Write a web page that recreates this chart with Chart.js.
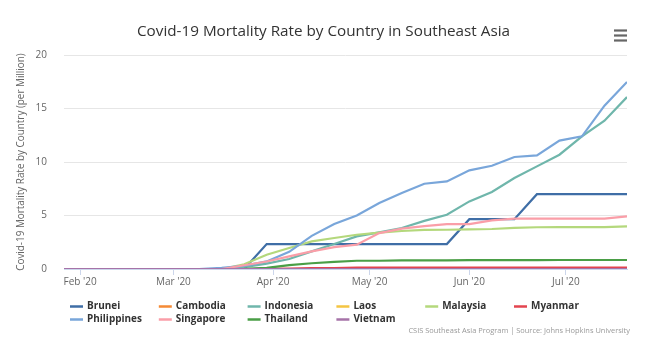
<!DOCTYPE html>
<html>
<head>
<meta charset="utf-8">
<script src="https://cdn.jsdelivr.net/npm/chart.js@4.4.1/dist/chart.umd.min.js"></script>
<style>
html,body{margin:0;padding:0;background:#fff;}
#wrap{position:relative;width:659px;height:346px;}
canvas{display:block;}
</style>
</head>
<body>
<div id="wrap"><canvas id="c" width="659" height="346"></canvas></div>
<script>
// ---------- DATA ----------
const chartTitle = 'Covid-19 Mortality Rate by Country in Southeast Asia';
const yAxisTitle = 'Covid-19 Mortality Rate by Country (per Million)';
const creditText = 'CSIS Southeast Asia Program | Source: Johns Hopkins University';

const weekDates = ['2020-01-27','2020-02-03','2020-02-10','2020-02-17','2020-02-24','2020-03-02','2020-03-09',
  '2020-03-16','2020-03-23','2020-03-30','2020-04-06','2020-04-13','2020-04-20','2020-04-27','2020-05-04',
  '2020-05-11','2020-05-18','2020-05-25','2020-06-01','2020-06-08','2020-06-15','2020-06-22','2020-06-29',
  '2020-07-06','2020-07-13','2020-07-20'];

const countries = ['Brunei','Cambodia','Indonesia','Laos','Malaysia','Myanmar','Philippines','Singapore','Thailand','Vietnam'];

const brunei      = [0,0,0,0,0,0,0,0,0,2.33,2.33,2.33,2.33,2.33,2.33,2.33,2.33,2.33,4.66,4.66,4.66,6.99,6.99,6.99,6.99,6.99];
const cambodia    = [0,0,0,0,0,0,0,0,0,0,0,0,0,0,0,0,0,0,0,0,0,0,0,0,0,0];
const indonesia   = [0,0,0,0,0,0,0,0.01,0.18,0.5,0.93,1.65,2.33,3.05,3.42,3.83,4.5,5.07,6.32,7.2,8.5,9.59,10.68,12.4,13.86,16.07];
const laos        = [0,0,0,0,0,0,0,0,0,0,0,0,0,0,0,0,0,0,0,0,0,0,0,0,0,0];
const malaysia    = [0,0,0,0,0,0,0,0,0.44,1.34,1.96,2.58,2.9,3.2,3.4,3.55,3.65,3.67,3.7,3.74,3.85,3.9,3.92,3.92,3.92,3.98];
const myanmar     = [0,0,0,0,0,0,0,0,0,0.02,0.04,0.09,0.09,0.12,0.12,0.12,0.12,0.13,0.13,0.13,0.13,0.13,0.13,0.13,0.13,0.13];
const philippines = [0,0,0,0,0,0,0,0.11,0.3,0.71,1.6,3.1,4.2,5.0,6.17,7.1,7.97,8.19,9.22,9.65,10.47,10.62,12.0,12.4,15.26,17.48];
const singapore   = [0,0,0,0,0,0,0,0,0.35,0.7,1.18,1.65,2.05,2.27,3.36,3.77,4.0,4.2,4.2,4.55,4.7,4.7,4.7,4.7,4.7,4.92];
const thailand    = [0,0,0,0,0,0,0,0,0.02,0.1,0.37,0.54,0.67,0.77,0.77,0.8,0.8,0.81,0.83,0.83,0.83,0.83,0.84,0.84,0.84,0.84];
const vietnam     = [0,0,0,0,0,0,0,0,0,0,0,0,0,0,0,0,0,0,0,0,0,0,0,0,0,0];

const monthTickDates  = ['2020-02-01','2020-03-01','2020-04-01','2020-05-01','2020-06-01','2020-07-01'];
const monthTickLabels = ["Feb '20","Mar '20","Apr '20","May '20","Jun '20","Jul '20"];
const yTickValues = [0,5,10,15,20];

// ---------- STYLE ----------
const seriesValues = [brunei,cambodia,indonesia,laos,malaysia,myanmar,philippines,singapore,thailand,vietnam];
const seriesColors = ['#3f6ea6','#f58a35','#6fb6ab','#f4c542','#b4d87c','#e3444f','#79a6da','#fa9ea8','#4a9e46','#a673a8'];
const FAMILY = '"Open Sans", "Liberation Sans", sans-serif';

function dayOf(s){
  const [y,m,d] = s.split('-').map(Number);
  return (Date.UTC(y,m-1,d) - Date.UTC(2020,1,1)) / 86400000;
}
const mctx = document.createElement('canvas').getContext('2d');
function fitSize(text, weight, target){
  mctx.font = weight + ' 100px ' + FAMILY;
  return 100 * target / mctx.measureText(text).width;
}
const titleSize  = fitSize(chartTitle, 'normal', 373);
const yTitleSize = fitSize(yAxisTitle, 'normal', 218);
const legendSize = fitSize('Philippines', 'bold', 55);
const creditSize = fitSize(creditText, 'normal', 222);

const xDays = weekDates.map(dayOf);
const monthDays = monthTickDates.map(dayOf);

const datasets = countries.map((name,i)=>({
  label: name,
  data: seriesValues[i].map((v,k)=>({x:xDays[k], y:v})),
  borderColor: seriesColors[i],
  backgroundColor: seriesColors[i],
  borderWidth: 2.2,
  pointRadius: 0,
  tension: 0,
  fill: false,
  order: -i
}));

const decorPlugin = {
  id: 'decor',
  afterDraw(chart){
    const ctx = chart.ctx;
    ctx.save();
    // title
    ctx.fillStyle = '#333333';
    ctx.font = 'normal ' + titleSize + 'px ' + FAMILY;
    ctx.textAlign = 'center';
    ctx.textBaseline = 'middle';
    ctx.fillText(chartTitle, 323.5, 32);
    // menu icon
    ctx.strokeStyle = '#666666';
    ctx.lineWidth = 2.2;
    [30.5, 35.5, 40.5].forEach(y=>{
      ctx.beginPath(); ctx.moveTo(614, y); ctx.lineTo(627, y); ctx.stroke();
    });
    // legend
    const colX = [70, 158.8, 247.6, 336.4, 425.2, 514];
    const rowY = [306.5, 319.5];
    ctx.font = 'bold ' + legendSize + 'px ' + FAMILY;
    ctx.textAlign = 'left';
    ctx.textBaseline = 'middle';
    countries.forEach((name,i)=>{
      const x = colX[i % 6], y = rowY[Math.floor(i / 6)];
      ctx.strokeStyle = seriesColors[i];
      ctx.lineWidth = 2.5;
      ctx.beginPath(); ctx.moveTo(x, y); ctx.lineTo(x + 13, y); ctx.stroke();
      ctx.fillStyle = '#333333';
      ctx.fillText(name, x + 17, y);
    });
    // credits
    ctx.font = 'normal ' + creditSize + 'px ' + FAMILY;
    ctx.fillStyle = '#999999';
    ctx.textAlign = 'right';
    ctx.fillText(creditText, 630, 331);
    ctx.restore();
  }
};

new Chart(document.getElementById('c'), {
  type: 'line',
  data: { datasets },
  options: {
    responsive: false,
    animation: false,
    devicePixelRatio: 1,
    layout: { padding: { top: 55, right: 32, bottom: 52, left: 0 } },
    plugins: { legend: { display: false }, title: { display: false }, tooltip: { enabled: false } },
    scales: {
      x: {
        type: 'linear',
        min: dayOf(weekDates[0]),
        max: dayOf(weekDates[weekDates.length-1]),
        afterBuildTicks(scale){ scale.ticks = monthDays.map(v=>({value:v})); },
        afterFit(scale){ scale.height = 25; },
        grid: { display: true, drawOnChartArea: false, drawTicks: true, tickLength: 6, color: '#ccd6eb', lineWidth: 1 },
        border: { display: true, color: '#ccd6eb', width: 1 },
        ticks: {
          autoSkip: false, maxRotation: 0, padding: 1,
          color: '#666666', font: { family: FAMILY, size: 10 },
          callback(value, index){ return monthTickLabels[index]; }
        }
      },
      y: {
        type: 'linear',
        min: 0, max: 20,
        afterBuildTicks(scale){ scale.ticks = yTickValues.map(v=>({value:v})); },
        afterFit(scale){ scale.width = 64; },
        grid: { color: '#e6e6e6', lineWidth: 1, drawTicks: false },
        border: { display: false },
        ticks: { padding: 17, color: '#666666', font: { family: FAMILY, size: 10 } },
        title: {
          display: true, text: yAxisTitle, color: '#666666',
          font: { family: FAMILY, size: yTitleSize },
          padding: { top: 15, bottom: 0 }
        }
      }
    }
  },
  plugins: [decorPlugin]
});
</script>
</body>
</html>
